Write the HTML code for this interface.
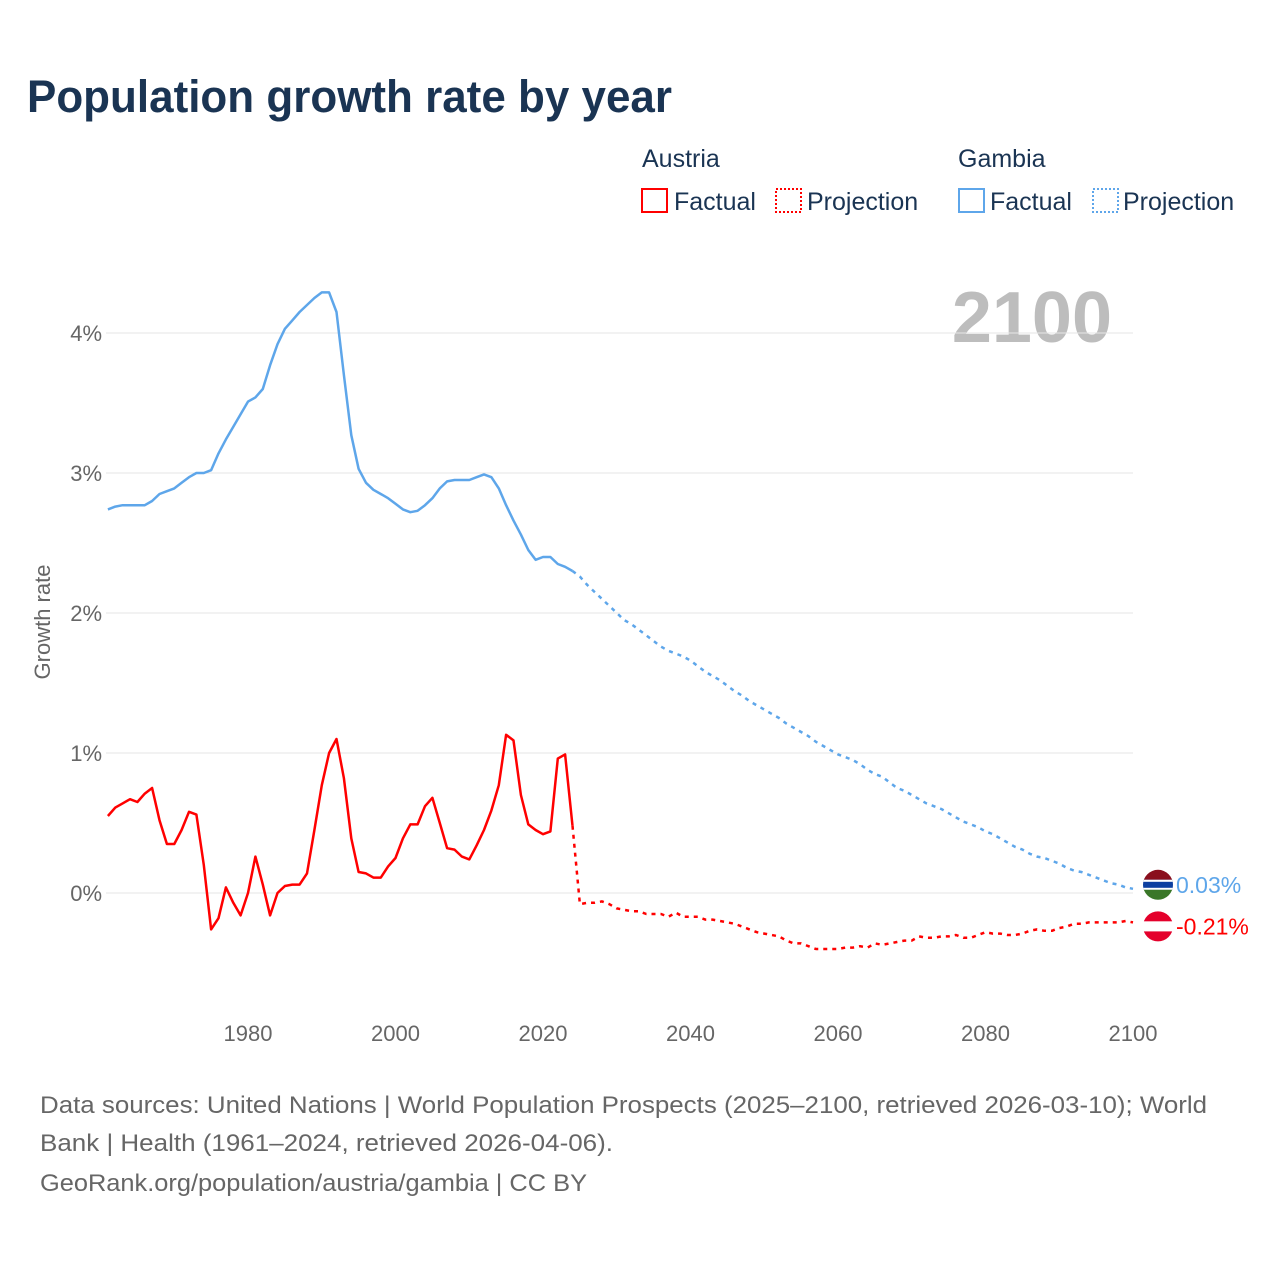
<!DOCTYPE html>
<html><head><meta charset="utf-8">
<style>
body{margin:0;background:#fff;font-family:"Liberation Sans",sans-serif;}
#wrap{position:relative;width:1280px;height:1280px;overflow:hidden;}
</style></head>
<body>
<div id="wrap">
<svg id="svg" width="1280" height="1280" xmlns="http://www.w3.org/2000/svg">
<text x="27" y="112" font-size="45" font-weight="bold" fill="#1a3453" textLength="645" lengthAdjust="spacingAndGlyphs">Population growth rate by year</text>
<g font-size="25" fill="#1a3453">
<text x="642" y="167">Austria</text>
<text x="958" y="167">Gambia</text>
<g><rect x="642" y="189" width="25" height="23" fill="none" stroke="#f00" stroke-width="2"/><text x="674" y="210">Factual</text></g>
<g><rect x="776" y="189" width="25" height="23" fill="none" stroke="#f00" stroke-width="2" stroke-dasharray="2,2"/><text x="807" y="210">Projection</text></g>
<g><rect x="959" y="189" width="25" height="23" fill="none" stroke="#5ea6ea" stroke-width="2"/><text x="990" y="210">Factual</text></g>
<g><rect x="1093" y="189" width="25" height="23" fill="none" stroke="#5ea6ea" stroke-width="2" stroke-dasharray="2,2"/><text x="1123" y="210">Projection</text></g>
</g>
<text x="1112" y="342" font-size="72" font-weight="bold" fill="#bdbdbd" text-anchor="end">2100</text>
<text transform="translate(50,622) rotate(-90)" font-size="22" fill="#666" text-anchor="middle">Growth rate</text>
<g id="grid"></g><g id="series"></g><g id="ends"></g>
<g font-size="24" fill="#666">
<text x="40" y="1113" textLength="1167" lengthAdjust="spacingAndGlyphs">Data sources: United Nations | World Population Prospects (2025–2100, retrieved 2026-03-10); World</text>
<text x="40" y="1151" textLength="573" lengthAdjust="spacingAndGlyphs">Bank | Health (1961–2024, retrieved 2026-04-06).</text>
<text x="40" y="1191" textLength="547" lengthAdjust="spacingAndGlyphs">GeoRank.org/population/austria/gambia | CC BY</text>
</g>
</svg>
</div>
<script>
const yTicks=[0,1,2,3,4];
const xTicks=[1980,2000,2020,2040,2060,2080,2100];
const factStart=1961, projStart=2025;
const austriaFactual=[0.55,0.61,0.64,0.67,0.65,0.71,0.75,0.52,0.35,0.35,0.45,0.58,0.56,0.2,-0.26,-0.18,0.04,-0.07,-0.16,0,0.26,0.06,-0.16,0,0.05,0.06,0.06,0.14,0.45,0.77,1.0,1.1,0.82,0.39,0.15,0.14,0.11,0.11,0.19,0.25,0.39,0.49,0.49,0.62,0.68,0.5,0.32,0.31,0.26,0.24,0.34,0.45,0.59,0.77,1.13,1.09,0.7,0.49,0.45,0.42,0.44,0.96,0.99,0.48];
const austriaProjection=[-0.08,-0.07,-0.07,-0.06,-0.08,-0.11,-0.12,-0.13,-0.13,-0.15,-0.15,-0.15,-0.17,-0.14,-0.17,-0.17,-0.17,-0.19,-0.19,-0.2,-0.21,-0.22,-0.24,-0.26,-0.28,-0.29,-0.3,-0.31,-0.34,-0.36,-0.36,-0.38,-0.4,-0.4,-0.4,-0.4,-0.39,-0.39,-0.38,-0.39,-0.36,-0.37,-0.36,-0.35,-0.34,-0.34,-0.31,-0.32,-0.32,-0.31,-0.31,-0.3,-0.32,-0.32,-0.3,-0.28,-0.29,-0.29,-0.3,-0.3,-0.29,-0.27,-0.26,-0.27,-0.27,-0.25,-0.24,-0.22,-0.22,-0.21,-0.21,-0.21,-0.21,-0.21,-0.2,-0.21];
const gambiaFactual=[2.74,2.76,2.77,2.77,2.77,2.77,2.8,2.85,2.87,2.89,2.93,2.97,3.0,3.0,3.02,3.14,3.24,3.33,3.42,3.51,3.54,3.6,3.77,3.92,4.03,4.09,4.15,4.2,4.25,4.29,4.29,4.15,3.7,3.27,3.03,2.93,2.88,2.85,2.82,2.78,2.74,2.72,2.73,2.77,2.82,2.89,2.94,2.95,2.95,2.95,2.97,2.99,2.97,2.89,2.77,2.66,2.56,2.45,2.38,2.4,2.4,2.35,2.33,2.3];
const gambiaProjection=[2.26,2.2,2.15,2.1,2.05,2.0,1.95,1.92,1.88,1.84,1.8,1.76,1.73,1.71,1.69,1.66,1.62,1.58,1.55,1.52,1.48,1.44,1.41,1.37,1.34,1.31,1.28,1.25,1.21,1.18,1.15,1.12,1.08,1.05,1.02,0.99,0.97,0.95,0.92,0.88,0.85,0.83,0.79,0.75,0.73,0.7,0.67,0.64,0.62,0.6,0.57,0.54,0.51,0.49,0.47,0.44,0.42,0.39,0.36,0.33,0.31,0.28,0.26,0.25,0.23,0.21,0.18,0.16,0.15,0.13,0.11,0.09,0.07,0.06,0.04,0.03];

const NS="http://www.w3.org/2000/svg";
const xs=y=>248+(y-1980)*(1133-248)/120;
const ys=v=>893-v*140;
function mk(t,a,p){const e=document.createElementNS(NS,t);for(const k in a)e.setAttribute(k,a[k]);p.appendChild(e);return e;}
const grid=document.getElementById('grid');
yTicks.forEach(t=>{
  const l=mk('line',{x1:106,x2:1133,y1:ys(t),y2:ys(t),stroke:'#e6e6e6','stroke-width':1},grid);
  
  
  const tx=mk('text',{x:102,y:ys(t)+8,'font-size':22,fill:'#666','text-anchor':'end'},grid);
  tx.textContent=t+'%';
  
  
});
xTicks.forEach(t=>{
  const tx=mk('text',{x:xs(t),y:1041,'font-size':22,fill:'#666','text-anchor':'middle'},grid);
  tx.textContent=t;
  
  
});
const sg=document.getElementById('series');
function line(arr,start,color,dash,name,prev){
  let pts=arr.map((v,i)=>xs(start+i).toFixed(1)+','+ys(v).toFixed(1));
  if(prev!==undefined) pts.unshift(xs(start-1).toFixed(1)+','+ys(prev).toFixed(1));
  const p=mk('polyline',{points:pts.join(' '),fill:'none',stroke:color,'stroke-width':2.5,'stroke-linejoin':'round'},sg);
  if(dash)p.setAttribute('stroke-dasharray','4,5');
  
  
}
line(gambiaFactual,factStart,'#5ea6ea',false,'gambia-factual-line');
line(gambiaProjection,projStart,'#5ea6ea',true,'gambia-projection-line',gambiaFactual[gambiaFactual.length-1]);
line(austriaFactual,factStart,'#f00',false,'austria-factual-line');
line(austriaProjection,projStart,'#f00',true,'austria-projection-line',austriaFactual[austriaFactual.length-1]);

const eg=document.getElementById('ends');
const gl=gambiaProjection[gambiaProjection.length-1], al=austriaProjection[austriaProjection.length-1];
const gy=ys(gl)-4, ay=ys(al)+4;
const gf=mk('g',{},eg);


mk('clipPath',{id:'cg'},gf).appendChild(document.createElementNS(NS,'circle'));
const cgc=document.querySelector('#cg circle');cgc.setAttribute('cx',1158);cgc.setAttribute('cy',gy);cgc.setAttribute('r',15);
const g2=mk('g',{'clip-path':'url(#cg)'},gf);
mk('rect',{x:1140,y:gy-16,width:36,height:11,fill:'#8a0f1d'},g2);
mk('rect',{x:1140,y:gy-5,width:36,height:10,fill:'#0c3fa0'},g2);
mk('rect',{x:1140,y:gy-5,width:36,height:2,fill:'#fff'},g2);
mk('rect',{x:1140,y:gy+3,width:36,height:2,fill:'#fff'},g2);
mk('rect',{x:1140,y:gy+5,width:36,height:11,fill:'#3a7728'},g2);
const af=mk('g',{},eg);


mk('clipPath',{id:'ca'},af).appendChild(document.createElementNS(NS,'circle'));
const cac=document.querySelector('#ca circle');cac.setAttribute('cx',1158);cac.setAttribute('cy',ay);cac.setAttribute('r',15);
const a2=mk('g',{'clip-path':'url(#ca)'},af);
mk('rect',{x:1140,y:ay-16,width:36,height:11,fill:'#e4002b'},a2);
mk('rect',{x:1140,y:ay-5,width:36,height:10,fill:'#fff'},a2);
mk('rect',{x:1140,y:ay+5,width:36,height:11,fill:'#e4002b'},a2);
const gt=mk('text',{x:1176,y:gy+8,'font-size':23,fill:'#5ea6ea'},eg);
gt.textContent=gl.toFixed(2)+'%';


const at=mk('text',{x:1176,y:ay+8,'font-size':23,fill:'#f00'},eg);
at.textContent=al.toFixed(2)+'%';


</script>
</body></html>
